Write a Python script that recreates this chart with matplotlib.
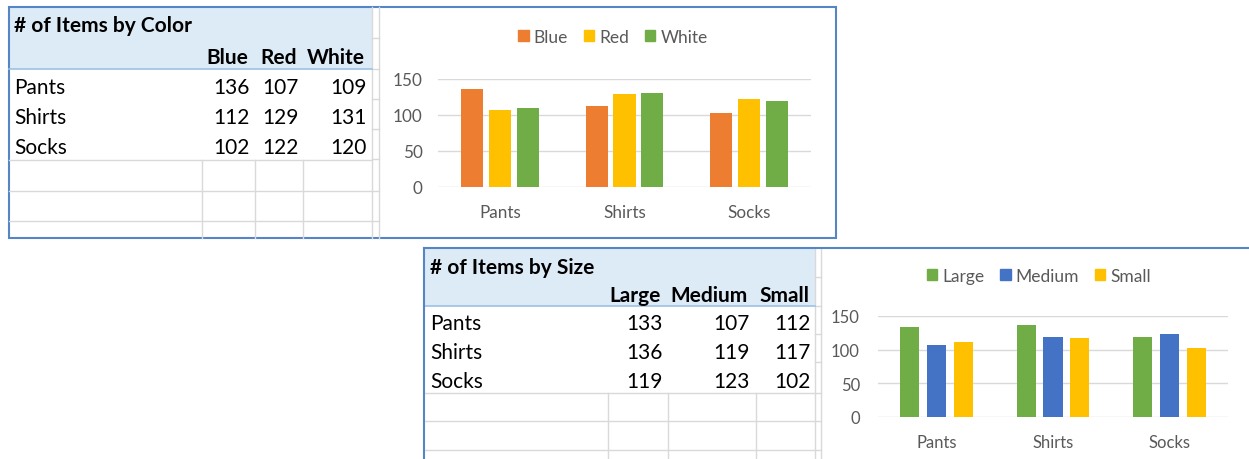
import matplotlib
matplotlib.use('Agg')
from matplotlib import pyplot as plt
from matplotlib.patches import Rectangle, Patch
from matplotlib.lines import Line2D
import numpy as np

W, H = 1249, 460
plt.rcParams['font.family'] = ['Lato', 'DejaVu Sans']

products = ['Pants', 'Shirts', 'Socks']

color_names = ['Blue', 'Red', 'White']
color_vals = [[136, 112, 102],   # Blue
              [107, 129, 122],   # Red
              [109, 131, 120]]   # White
color_cols = ['#ED7D31', '#FFC000', '#70AD47']

size_names = ['Large', 'Medium', 'Small']
size_vals = [[133, 136, 119],    # Large
             [107, 119, 123],    # Medium
             [112, 117, 102]]    # Small
size_cols = ['#70AD47', '#4472C4', '#FFC000']

yticks = [0, 50, 100, 150]

BAND = '#DDEBF7'
BORDER = '#5585C5'
CELL = '#D9D9D9'
GRAY = '#595959'

fig = plt.figure(figsize=(W/100, H/100), dpi=100)
fig.patch.set_facecolor('white')

def fx(x): return x/W
def fy(y): return 1 - y/H

def hline(x0, x1, y, c=CELL, lw=1.0):
    fig.add_artist(Line2D([fx(x0), fx(x1)], [fy(y), fy(y)], color=c, lw=lw, transform=fig.transFigure))

def vline(x, y0, y1, c=CELL, lw=1.0):
    fig.add_artist(Line2D([fx(x), fx(x)], [fy(y0), fy(y1)], color=c, lw=lw, transform=fig.transFigure))

def rect(x0, y0, x1, y1, c):
    fig.add_artist(Rectangle((fx(x0), fy(y1)), fx(x1)-fx(x0), fy(y0)-fy(y1),
                             facecolor=c, edgecolor='none', transform=fig.transFigure))

def table(title, names, vals, box, col_right, row_y, head_y, title_y, grid_x, grid_y, bottom, fs=15):
    x0, y0, x1, y1 = box  # header band
    rect(x0, y0, x1, y1, BAND)
    hline(x0, x1, y1, c='#9BC2E6', lw=1.2)
    d = 1.5  # nudge text down a little
    fig.text(fx(x0+5), fy(title_y+d), title, fontsize=fs, fontweight='bold', va='center', ha='left')
    for n, xr in zip(names, col_right):
        fig.text(fx(xr), fy(head_y+d), n, fontsize=fs, fontweight='bold', va='center', ha='right')
    for i, p in enumerate(products):
        fig.text(fx(x0+5), fy(row_y[i]+d), p, fontsize=fs, va='center', ha='left')
        for j, xr in enumerate(col_right):
            fig.text(fx(xr+2), fy(row_y[i]+d), str(vals[j][i]), fontsize=fs, va='center', ha='right')
    for gy in grid_y:
        hline(x0, x1, gy)
    for gx in grid_x:
        vline(gx, grid_y[0], bottom)

def chart(rect_px, names, vals, cols, width, step, leg_xy, fs=12.5, lfs=12.5, ypad=11):
    l, t, r, b = rect_px
    ax = fig.add_axes([fx(l), fy(b), fx(r)-fx(l), fy(t)-fy(b)])
    x = np.arange(len(products))
    for k, (n, v, c) in enumerate(zip(names, vals, cols)):
        ax.bar(x + (k-1)*step, v, width, color=c, zorder=3, label=n)
    ax.set_xlim(-0.5, 2.5)
    ax.set_ylim(0, 150)
    ax.set_yticks(yticks)
    ax.set_yticklabels([str(t) for t in yticks], color=GRAY, fontsize=fs)
    ax.set_xticks(x)
    ax.set_xticklabels(products, color=GRAY, fontsize=fs)
    ax.grid(axis='y', color=CELL, lw=1, zorder=0)
    for s in ax.spines.values():
        s.set_visible(False)
    ax.tick_params(length=0)
    ax.tick_params(axis='x', pad=12.5)
    ax.tick_params(axis='y', pad=ypad)
    ax.set_facecolor('none')
    handles = [Patch(color=c) for c in cols]
    fig.legend(handles, names, loc='center', bbox_to_anchor=(fx(leg_xy[0]), fy(leg_xy[1])),
               ncol=3, frameon=False, fontsize=lfs, handlelength=0.6, handleheight=0.6,
               handletextpad=0.3, columnspacing=0.9, labelcolor=GRAY)
    return ax

# top block: table by colour
for gy in [39, 70, 100, 130, 160, 192, 222]:
    hline(372, 379, gy)
vline(372, 8, 239)
vline(379, 8, 239)
table('# of Items by Color', color_names, color_vals, (9, 9, 372, 70),
      [248, 297, 365], [87, 117, 147], 56, 25, [202, 255, 303], [161, 192, 222], 239)
chart((438, 80, 811, 187.5), color_names, color_vals, color_cols, 0.177, 0.223, (613, 38),
      fs=12.3, lfs=12.5, ypad=11)
fig.add_artist(Rectangle((fx(9), fy(239)), fx(836)-fx(9), fy(8)-fy(239), facecolor='none',
                         edgecolor=BORDER, lw=1.5, transform=fig.transFigure))

# bottom block: table by size
for gy in [278, 307, 335, 363, 394, 422, 451]:
    hline(815, 821, gy)
vline(815, 249, H)
vline(821, 249, H)
table('# of Items by Size', size_names, size_vals, (425, 250, 815, 307),
      [661, 748, 809], [323, 352, 380], 295, 266, [608, 668, 756], [394, 422, 451], H)
chart((878, 317, 1228, 418), size_names, size_vals, size_cols, 0.163, 0.23, (1039, 277),
      fs=12, lfs=12.5, ypad=13)
hline(424, W, 249, c=BORDER, lw=1.5)
vline(424.5, 249, H, c=BORDER, lw=1.5)

fig.savefig('out.png', dpi=100)
